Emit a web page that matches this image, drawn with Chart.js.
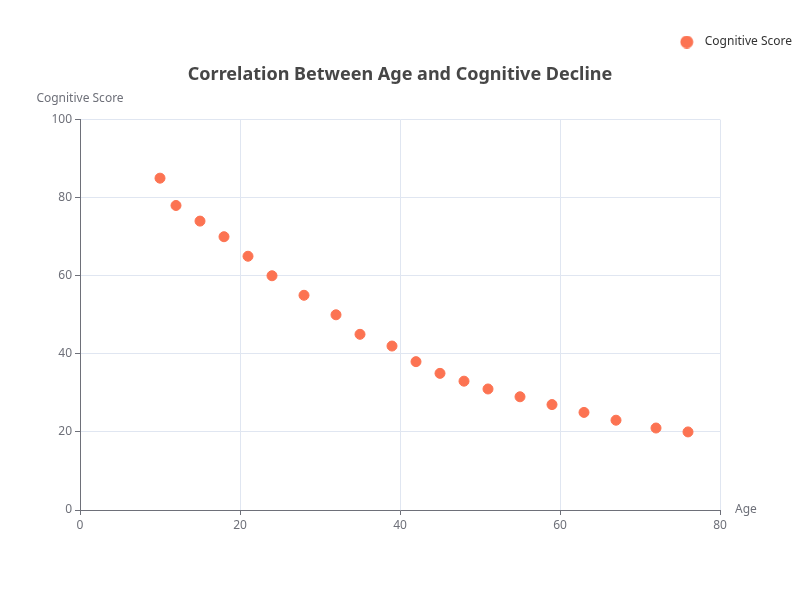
<!DOCTYPE html>
<html>
<head>
<meta charset="utf-8">
<script src="https://cdn.jsdelivr.net/npm/chart.js@4"></script>
<style>
    html, body { margin: 0; padding: 0; background: #fff; }
    #wrap { width: 800px; height: 600px; }
</style>
</head>
<body>
<div id="wrap"><canvas id="chart" width="800" height="600"></canvas></div>
<script>
// Age vs cognitive score
const ages = [10, 12, 15, 18, 21, 24, 28, 32, 35, 39, 42, 45, 48, 51, 55, 59, 63, 67, 72, 76];
const scores = [85, 78, 74, 70, 65, 60, 55, 50, 45, 42, 38, 35, 33, 31, 29, 27, 25, 23, 21, 20];
const seriesName = 'Cognitive Score';
const xName = 'Age';
const yName = 'Cognitive Score';
const chartTitle = 'Correlation Between Age and Cognitive Decline';

const FONT = '"Noto Sans", sans-serif';
const AXIS = '#6e7079';
const GRID = '#e0e6f1';
const DOT = 'rgb(252, 115, 82)';

// legend marker: circle on the left of a wider transparent box,
// so the label sits further from the dot than Chart.js does by default
const legendDot = document.createElement('canvas');
legendDot.width = 19;
legendDot.height = 13;
(function () {
    const c = legendDot.getContext('2d');
    c.fillStyle = DOT;
    c.beginPath();
    c.arc(7, 6.5, 6.5, 0, Math.PI * 2);
    c.fill();
})();

// axis names sit at the ends of the axes, not centred
const axisNames = {
    id: 'axisNames',
    afterDraw(chart) {
        const { ctx, chartArea } = chart;
        ctx.save();
        ctx.fillStyle = AXIS;
        ctx.font = '12px ' + FONT;
        ctx.textBaseline = 'middle';
        ctx.textAlign = 'left';
        ctx.fillText(xName, chartArea.right + 15, chartArea.bottom);
        ctx.textAlign = 'center';
        ctx.fillText(yName, chartArea.left, chartArea.top - 21);
        ctx.restore();
    }
};

new Chart(document.getElementById('chart'), {
    type: 'scatter',
    data: {
        datasets: [{
            label: seriesName,
            data: ages.map((a, i) => ({ x: a, y: scores[i] })),
            backgroundColor: DOT,
            borderColor: DOT,
            pointRadius: 5,
            pointHoverRadius: 5
        }]
    },
    options: {
        responsive: false,
        animation: false,
        layout: { padding: { left: 0, right: 0, top: 28, bottom: 64 } },
        plugins: {
            tooltip: { enabled: false },
            legend: {
                position: 'top',
                align: 'end',
                weight: 3000,
                labels: {
                    usePointStyle: true,
                    pointStyle: legendDot,
                    pointStyleWidth: 19,
                    boxHeight: 9,
                    color: '#333',
                    font: { family: FONT, size: 12 },
                    padding: 8
                }
            },
            title: {
                display: true,
                text: chartTitle,
                color: '#464646',
                font: { family: FONT, size: 18, weight: 'bold' },
                padding: { top: 6, bottom: 34 }
            }
        },
        scales: {
            x: {
                type: 'linear',
                min: 0,
                max: 80,
                ticks: { stepSize: 20, color: AXIS, font: { family: FONT, size: 12 }, padding: 3 },
                grid: { color: GRID, tickColor: AXIS, tickLength: 5 },
                border: { color: AXIS, width: 1 },
                afterFit(scale) { scale.height = 26; }
            },
            y: {
                min: 0,
                max: 100,
                ticks: { stepSize: 20, color: AXIS, font: { family: FONT, size: 12 }, padding: 3 },
                grid: { color: GRID, tickColor: AXIS, tickLength: 5 },
                border: { color: AXIS, width: 1 },
                afterFit(scale) { scale.width = 80; }
            },
            // empty right-hand spacer so the plot ends at x=720
            spacer: {
                type: 'linear',
                position: 'right',
                min: 0,
                max: 100,
                ticks: { display: false },
                grid: { display: false, drawTicks: false },
                border: { display: false },
                afterFit(scale) { scale.width = 80; }
            }
        }
    },
    plugins: [axisNames]
});
</script>
</body>
</html>
